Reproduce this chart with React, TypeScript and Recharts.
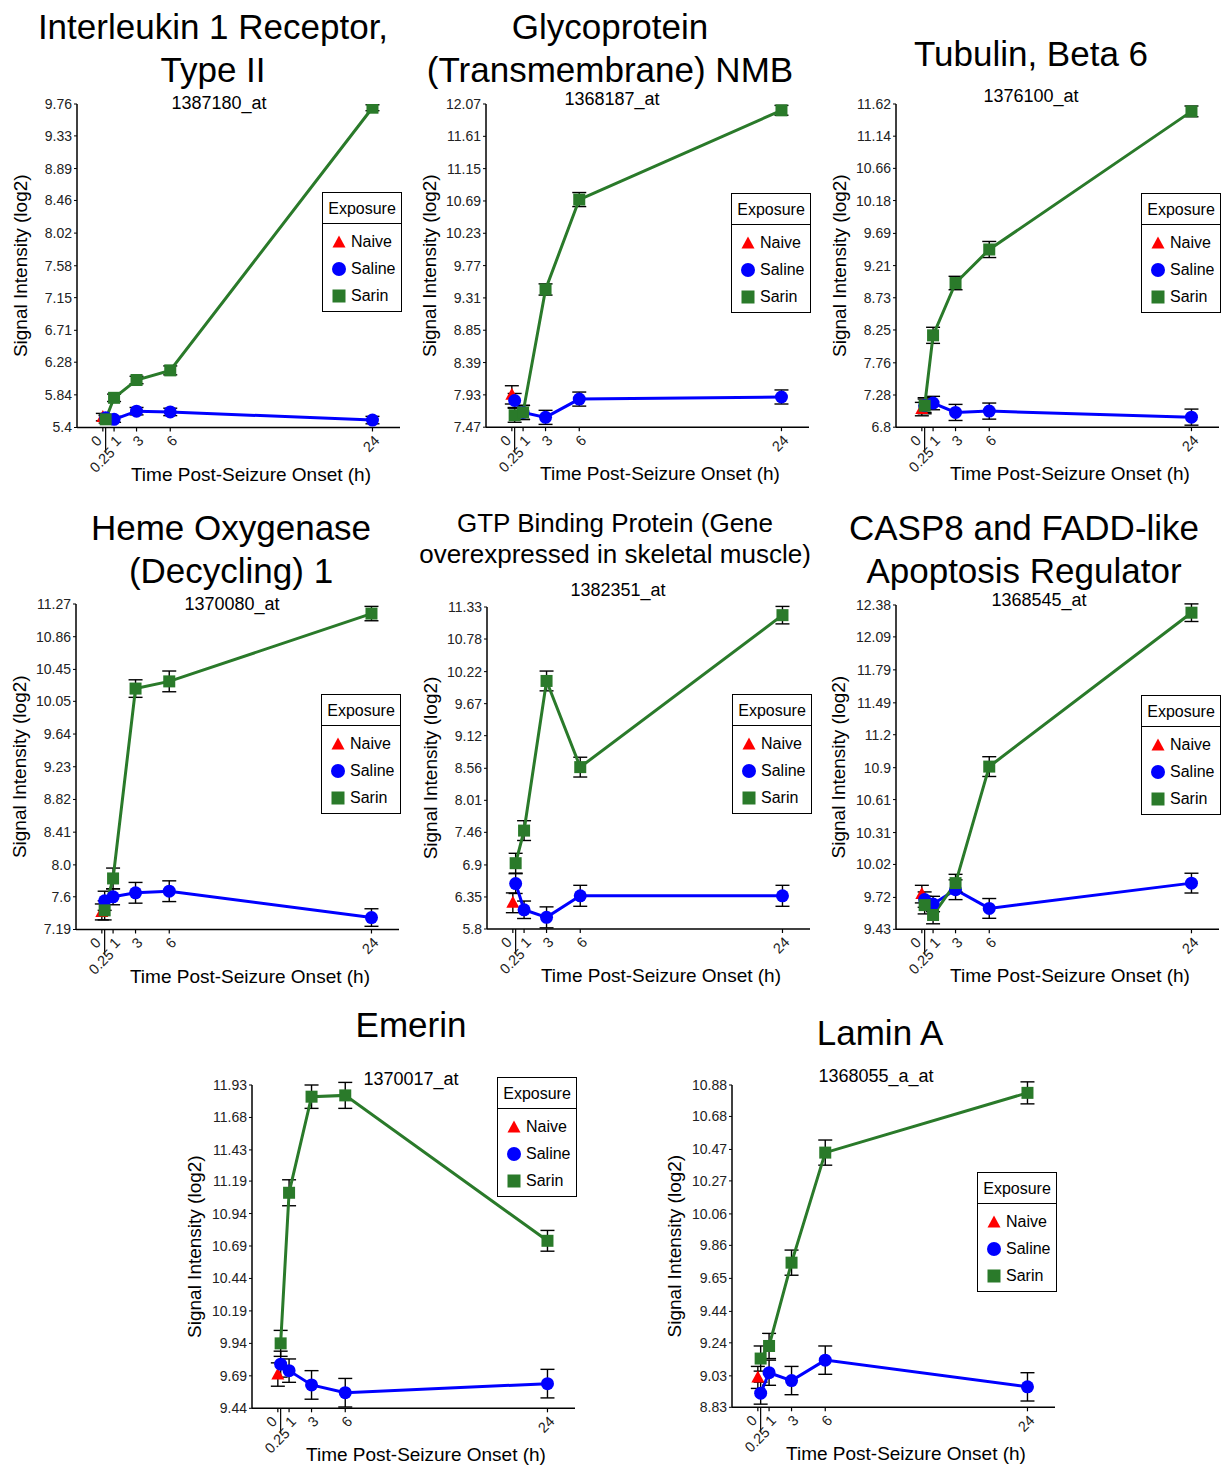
import React from 'react'
import { LineChart, Line, XAxis, YAxis, ErrorBar } from 'recharts'

const FONT = '"Liberation Sans", Arial, Helvetica, sans-serif'
const RED = '#ff0000'
const BLUE = '#0000ff'
const GREEN = '#2a7a2a'

// shared x axis (hours after seizure onset)
const TIMES = [0.25, 1, 3, 6, 24]
const X_TICKS = [0, 0.25, 1, 3, 6, 24]
const X_DOMAIN: [number, number] = [-2.3, 26.45]
const LEGEND_NAMES = ['Naive', 'Saline', 'Sarin']

// Interleukin 1 receptor, type II
const IL1R2_TICKS = ['5.4', '5.84', '6.28', '6.71', '7.15', '7.58', '8.02', '8.46', '8.89', '9.33', '9.76']
const IL1R2_NAIVE = [5.54]
const IL1R2_NAIVE_ERR = [0.05]
const IL1R2_SALINE = [5.53, 5.51, 5.62, 5.61, 5.5]
const IL1R2_SALINE_ERR = [0.04, 0.04, 0.05, 0.05, 0.05]
const IL1R2_SARIN = [5.51, 5.8, 6.04, 6.17, 9.71]
const IL1R2_SARIN_ERR = [0.05, 0.05, 0.05, 0.06, 0.04]

// Glycoprotein NMB
const GPNMB_TICKS = ['7.47', '7.93', '8.39', '8.85', '9.31', '9.77', '10.23', '10.69', '11.15', '11.61', '12.07']
const GPNMB_NAIVE = [7.93]
const GPNMB_NAIVE_ERR = [0.13]
const GPNMB_SALINE = [7.85, 7.68, 7.61, 7.87, 7.9]
const GPNMB_SALINE_ERR = [0.1, 0.1, 0.1, 0.1, 0.1]
const GPNMB_SARIN = [7.64, 7.68, 9.43, 10.71, 11.98]
const GPNMB_SARIN_ERR = [0.1, 0.1, 0.08, 0.1, 0.07]

// Tubulin beta 6
const TUBB6_TICKS = ['6.8', '7.28', '7.76', '8.25', '8.73', '9.21', '9.69', '10.18', '10.66', '11.14', '11.62']
const TUBB6_NAIVE = [7.07]
const TUBB6_NAIVE_ERR = [0.1]
const TUBB6_SALINE = [7.12, 7.16, 7.02, 7.04, 6.95]
const TUBB6_SALINE_ERR = [0.1, 0.1, 0.12, 0.12, 0.12]
const TUBB6_SARIN = [7.12, 8.17, 8.95, 9.45, 11.51]
const TUBB6_SARIN_ERR = [0.12, 0.12, 0.1, 0.12, 0.08]

// Heme oxygenase 1
const HMOX1_TICKS = ['7.19', '7.6', '8.0', '8.41', '8.82', '9.23', '9.64', '10.05', '10.45', '10.86', '11.27']
const HMOX1_NAIVE = [7.41]
const HMOX1_NAIVE_ERR = [0.1]
const HMOX1_SALINE = [7.55, 7.6, 7.65, 7.67, 7.34]
const HMOX1_SALINE_ERR = [0.12, 0.1, 0.13, 0.13, 0.11]
const HMOX1_SARIN = [7.43, 7.83, 10.21, 10.3, 11.15]
const HMOX1_SARIN_ERR = [0.12, 0.13, 0.11, 0.13, 0.09]

// GTP binding protein (Gem)
const GEM_TICKS = ['5.8', '6.35', '6.9', '7.46', '8.01', '8.56', '9.12', '9.67', '10.22', '10.78', '11.33']
const GEM_NAIVE = [6.25]
const GEM_NAIVE_ERR = [0.17]
const GEM_SALINE = [6.58, 6.13, 6.0, 6.37, 6.37]
const GEM_SALINE_ERR = [0.17, 0.15, 0.18, 0.18, 0.18]
const GEM_SARIN = [6.93, 7.49, 10.06, 8.58, 11.19]
const GEM_SARIN_ERR = [0.17, 0.17, 0.17, 0.17, 0.15]

// CASP8 and FADD-like apoptosis regulator
const CFLAR_TICKS = ['9.43', '9.72', '10.02', '10.31', '10.61', '10.9', '11.2', '11.49', '11.79', '12.09', '12.38']
const CFLAR_NAIVE = [9.75]
const CFLAR_NAIVE_ERR = [0.08]
const CFLAR_SALINE = [9.7, 9.66, 9.79, 9.62, 9.85]
const CFLAR_SALINE_ERR = [0.07, 0.07, 0.09, 0.09, 0.09]
const CFLAR_SARIN = [9.65, 9.56, 9.85, 10.91, 12.31]
const CFLAR_SARIN_ERR = [0.08, 0.08, 0.08, 0.09, 0.08]

// Emerin
const EMD_TICKS = ['9.44', '9.69', '9.94', '10.19', '10.44', '10.69', '10.94', '11.19', '11.43', '11.68', '11.93']
const EMD_NAIVE = [9.7]
const EMD_NAIVE_ERR = [0.09]
const EMD_SALINE = [9.78, 9.73, 9.62, 9.56, 9.63]
const EMD_SALINE_ERR = [0.1, 0.09, 0.11, 0.11, 0.11]
const EMD_SARIN = [9.94, 11.1, 11.84, 11.85, 10.73]
const EMD_SARIN_ERR = [0.1, 0.1, 0.09, 0.1, 0.08]

// Lamin A
const LMNA_TICKS = ['8.83', '9.03', '9.24', '9.44', '9.65', '9.86', '10.06', '10.27', '10.47', '10.68', '10.88']
const LMNA_NAIVE = [9.02]
const LMNA_NAIVE_ERR = [0.07]
const LMNA_SALINE = [8.92, 9.05, 9.0, 9.13, 8.96]
const LMNA_SALINE_ERR = [0.07, 0.08, 0.09, 0.09, 0.09]
const LMNA_SARIN = [9.14, 9.22, 9.75, 10.45, 10.83]
const LMNA_SARIN_ERR = [0.08, 0.08, 0.08, 0.08, 0.07]

type Panel = {
  title: string[]
  titleSize: number
  titleX: number
  titleY: number[]
  probe: string
  probeX: number
  probeY: number
  x0: number
  yTop: number
  yBot: number
  legendTop: number
  ticks: string[]
  naive: number[]
  naiveErr: number[]
  saline: number[]
  salineErr: number[]
  sarin: number[]
  sarinErr: number[]
}

const PANELS: Panel[] = [
  {
    title: ['Interleukin 1 Receptor,', 'Type II'], titleSize: 35, titleX: 213, titleY: [27, 70],
    probe: '1387180_at', probeX: 219, probeY: 104, x0: 77, yTop: 103.5, yBot: 427, legendTop: 192,
    ticks: IL1R2_TICKS, naive: IL1R2_NAIVE, naiveErr: IL1R2_NAIVE_ERR, saline: IL1R2_SALINE,
    salineErr: IL1R2_SALINE_ERR, sarin: IL1R2_SARIN, sarinErr: IL1R2_SARIN_ERR,
  },
  {
    title: ['Glycoprotein', '(Transmembrane) NMB'], titleSize: 35, titleX: 610, titleY: [27, 70],
    probe: '1368187_at', probeX: 612, probeY: 100, x0: 486, yTop: 103.5, yBot: 426.7, legendTop: 193,
    ticks: GPNMB_TICKS, naive: GPNMB_NAIVE, naiveErr: GPNMB_NAIVE_ERR, saline: GPNMB_SALINE,
    salineErr: GPNMB_SALINE_ERR, sarin: GPNMB_SARIN, sarinErr: GPNMB_SARIN_ERR,
  },
  {
    title: ['Tubulin, Beta 6'], titleSize: 35, titleX: 1031, titleY: [54],
    probe: '1376100_at', probeX: 1031, probeY: 97, x0: 896, yTop: 103.5, yBot: 426.7, legendTop: 193,
    ticks: TUBB6_TICKS, naive: TUBB6_NAIVE, naiveErr: TUBB6_NAIVE_ERR, saline: TUBB6_SALINE,
    salineErr: TUBB6_SALINE_ERR, sarin: TUBB6_SARIN, sarinErr: TUBB6_SARIN_ERR,
  },
  {
    title: ['Heme Oxygenase', '(Decycling) 1'], titleSize: 35, titleX: 231, titleY: [528, 571],
    probe: '1370080_at', probeX: 232, probeY: 605, x0: 76, yTop: 603.5, yBot: 929, legendTop: 694,
    ticks: HMOX1_TICKS, naive: HMOX1_NAIVE, naiveErr: HMOX1_NAIVE_ERR, saline: HMOX1_SALINE,
    salineErr: HMOX1_SALINE_ERR, sarin: HMOX1_SARIN, sarinErr: HMOX1_SARIN_ERR,
  },
  {
    title: ['GTP Binding Protein (Gene', 'overexpressed in skeletal muscle)'], titleSize: 26, titleX: 615, titleY: [524, 555],
    probe: '1382351_at', probeX: 618, probeY: 591, x0: 487, yTop: 606.5, yBot: 928.5, legendTop: 694,
    ticks: GEM_TICKS, naive: GEM_NAIVE, naiveErr: GEM_NAIVE_ERR, saline: GEM_SALINE,
    salineErr: GEM_SALINE_ERR, sarin: GEM_SARIN, sarinErr: GEM_SARIN_ERR,
  },
  {
    title: ['CASP8 and FADD-like', 'Apoptosis Regulator'], titleSize: 35, titleX: 1024, titleY: [528, 571],
    probe: '1368545_at', probeX: 1039, probeY: 601, x0: 896, yTop: 605, yBot: 929.3, legendTop: 695,
    ticks: CFLAR_TICKS, naive: CFLAR_NAIVE, naiveErr: CFLAR_NAIVE_ERR, saline: CFLAR_SALINE,
    salineErr: CFLAR_SALINE_ERR, sarin: CFLAR_SARIN, sarinErr: CFLAR_SARIN_ERR,
  },
  {
    title: ['Emerin'], titleSize: 35, titleX: 411, titleY: [1025],
    probe: '1370017_at', probeX: 411, probeY: 1080, x0: 252, yTop: 1085, yBot: 1408.3, legendTop: 1077,
    ticks: EMD_TICKS, naive: EMD_NAIVE, naiveErr: EMD_NAIVE_ERR, saline: EMD_SALINE,
    salineErr: EMD_SALINE_ERR, sarin: EMD_SARIN, sarinErr: EMD_SARIN_ERR,
  },
  {
    title: ['Lamin A'], titleSize: 35, titleX: 880, titleY: [1033],
    probe: '1368055_a_at', probeX: 876, probeY: 1077, x0: 732, yTop: 1085, yBot: 1407.3, legendTop: 1172,
    ticks: LMNA_TICKS, naive: LMNA_NAIVE, naiveErr: LMNA_NAIVE_ERR, saline: LMNA_SALINE,
    salineErr: LMNA_SALINE_ERR, sarin: LMNA_SARIN, sarinErr: LMNA_SARIN_ERR,
  },
]

function CenterText({ text, cx, cy, size }: { text: string; cx: number; cy: number; size: number }) {
  return (
    <div
      style={{
        position: 'absolute', left: cx - 300, width: 600, top: cy - size * 0.6, height: size * 1.2,
        lineHeight: `${size * 1.2}px`, fontSize: size, textAlign: 'center', whiteSpace: 'nowrap', color: '#000',
      }}
    >
      {text}
    </div>
  )
}

const triangleDot = (props: any) => {
  const { cx, cy, index } = props
  if (cx == null || cy == null) return <g key={`t${index}`} />
  return <polygon key={`t${index}`} points={`${cx},${cy - 7} ${cx - 6.5},${cy + 5} ${cx + 6.5},${cy + 5}`} fill={RED} />
}

const circleDot = (props: any) => {
  const { cx, cy, index } = props
  if (cx == null || cy == null) return <g key={`c${index}`} />
  return <circle key={`c${index}`} cx={cx} cy={cy} r={6.5} fill={BLUE} />
}

const squareDot = (props: any) => {
  const { cx, cy, index } = props
  if (cx == null || cy == null) return <g key={`s${index}`} />
  return <rect key={`s${index}`} x={cx - 6} y={cy - 6} width={12} height={12} fill={GREEN} />
}

// rotated time labels; 0.25 sits lower with a long leader tick
function XTick(props: any) {
  const { x, y, payload } = props
  const v = payload.value
  const long = v === 0.25
  const dx = v === 0 ? 0 : long ? 10 : 8
  const dy = v === 0 ? 14 : long ? 26 : 14
  const ax = x + dx
  const ay = y + dy
  return (
    <g>
      <line x1={x} x2={x} y1={y} y2={y + (long ? 25 : 4)} stroke="#000" strokeWidth={1.2} />
      <text
        x={ax} y={ay} transform={`rotate(-45 ${ax} ${ay})`} textAnchor="end"
        fontSize={14.5} fill="#222" fontFamily={FONT}
      >
        {String(v)}
      </text>
    </g>
  )
}

function LegendBox({ left, top }: { left: number; top: number }) {
  const colors = [RED, BLUE, GREEN]
  return (
    <div
      style={{
        position: 'absolute', left, top, width: 78, height: 118, border: '1.5px solid #000',
        background: '#fff', fontSize: 16, color: '#000',
      }}
    >
      <div style={{ height: 30, lineHeight: '32px', textAlign: 'center', borderBottom: '1.5px solid #000' }}>
        Exposure
      </div>
      {LEGEND_NAMES.map((name, i) => (
        <div key={name} style={{ position: 'absolute', left: 8, top: 39 + i * 27, height: 20, display: 'flex', alignItems: 'center' }}>
          <svg width={16} height={16} style={{ marginRight: 4 }}>
            {i === 0 && <polygon points="8,1.5 1.5,13.5 14.5,13.5" fill={colors[i]} />}
            {i === 1 && <circle cx={8} cy={8} r={7} fill={colors[i]} />}
            {i === 2 && <rect x={1.5} y={1.5} width={13} height={13} fill={colors[i]} />}
          </svg>
          <span>{name}</span>
        </div>
      ))}
    </div>
  )
}

function GenePanel({ p }: { p: Panel }) {
  const plotH = p.yBot - p.yTop
  const chartLeft = p.x0 - 77
  const chartTop = p.yTop - 14
  const chartH = 14 + plotH + 60
  const yTicks = p.ticks.map(Number)
  const naiveData = p.naive.map((v, i) => ({ x: 0, y: v, e: p.naiveErr[i] }))
  const salineData = TIMES.map((t, i) => ({ x: t, y: p.saline[i], e: p.salineErr[i] }))
  const sarinData = TIMES.map((t, i) => ({ x: t, y: p.sarin[i], e: p.sarinErr[i] }))
  const fmt = (v: number) => {
    const i = yTicks.findIndex((t) => Math.abs(t - v) < 1e-9)
    return i >= 0 ? p.ticks[i] : String(v)
  }

  return (
    <>
      {p.title.map((t, i) => (
        <CenterText key={t} text={t} cx={p.titleX} cy={p.titleY[i]} size={p.titleSize} />
      ))}
      <CenterText text={p.probe} cx={p.probeX} cy={p.probeY} size={18} />
      <div style={{ position: 'absolute', left: chartLeft, top: chartTop }}>
        <LineChart width={410} height={chartH} margin={{ top: 14, right: 10, left: 17, bottom: 0 }}>
          <XAxis
            type="number" dataKey="x" domain={X_DOMAIN} ticks={X_TICKS} interval={0} allowDataOverflow
            height={60} tickSize={0} tickMargin={0} tickLine={false} tick={<XTick />}
            axisLine={{ stroke: '#000', strokeWidth: 1.5 }}
            label={() => (
              <text x={251} y={14 + plotH + 46.5} textAnchor="middle" dominantBaseline="central" fontSize={19} fontFamily={FONT} fill="#000">
                Time Post-Seizure Onset (h)
              </text>
            )}
          />
          <YAxis
            type="number" domain={[yTicks[0], yTicks[yTicks.length - 1]]} ticks={yTicks} interval={0}
            allowDataOverflow width={60} tickSize={3} tickFormatter={fmt}
            tick={{ fontSize: 14, fill: '#222', fontFamily: FONT }}
            tickLine={{ stroke: '#000' }} axisLine={{ stroke: '#000', strokeWidth: 1.5 }}
            label={() => (
              <text
                x={20} y={14 + plotH / 2} transform={`rotate(-90 20 ${14 + plotH / 2})`} textAnchor="middle"
                dominantBaseline="central" fontSize={19} fontFamily={FONT} fill="#000"
              >
                Signal Intensity (log2)
              </text>
            )}
          />
          <Line data={naiveData} dataKey="y" type="linear" stroke={RED} strokeWidth={3} dot={triangleDot} activeDot={false} isAnimationActive={false}>
            <ErrorBar dataKey="e" direction="y" width={7} stroke="#000" strokeWidth={1.4} />
          </Line>
          <Line data={salineData} dataKey="y" type="linear" stroke={BLUE} strokeWidth={3} dot={circleDot} activeDot={false} isAnimationActive={false}>
            <ErrorBar dataKey="e" direction="y" width={7} stroke="#000" strokeWidth={1.4} />
          </Line>
          <Line data={sarinData} dataKey="y" type="linear" stroke={GREEN} strokeWidth={3} dot={squareDot} activeDot={false} isAnimationActive={false}>
            <ErrorBar dataKey="e" direction="y" width={7} stroke="#000" strokeWidth={1.4} />
          </Line>
        </LineChart>
      </div>
      <LegendBox left={p.x0 + 245} top={p.legendTop} />
    </>
  )
}

export default function App() {
  return (
    <div
      style={{
        position: 'absolute', left: 0, top: 0, width: 1221, height: 1465, background: '#fff',
        fontFamily: FONT, overflow: 'hidden',
      }}
    >
      {PANELS.map((p) => (
        <GenePanel key={p.probe} p={p} />
      ))}
    </div>
  )
}
